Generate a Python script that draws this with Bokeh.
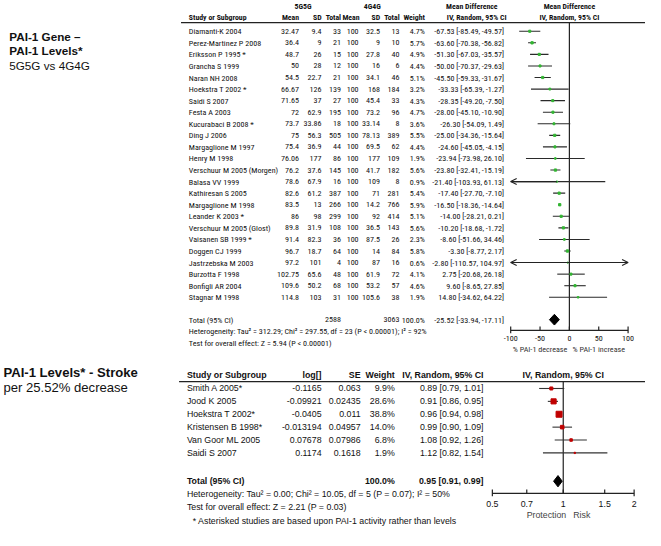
import math
from bokeh.plotting import figure
from bokeh.models import Range1d, LogScale, ColumnDataSource, Arrow, OpenHead
from bokeh.core.properties import value
from bokeh.embed import file_html
from bokeh.resources import INLINE

# ---------------- data: PAI-1 gene -> PAI-1 levels (5G5G vs 4G4G) ----------------
top_studies = ["Diamanti-K 2004", "Perez-Martinez P 2008", "Eriksson P 1995  *", "Grancha S 1999",
               "Naran NH 2008", "Hoekstra T 2002  *", "Saidi S 2007", "Festa A 2003",
               "Kucurabaci B 2008  *", "Ding J 2006", "Margaglione M 1997", "Henry M 1998",
               "Verschuur M 2005 (Morgen)", "Balasa VV 1999", "Kathiresan S 2005", "Margaglione M 1998",
               "Leander K 2003  *", "Verschuur M 2005 (Glost)", "Vaisanen SB 1999  *", "Doggen CJ 1999",
               "Jastrzebska M 2003", "Burzotta F 1998", "Bonfigli AR 2004", "Stagnar M 1998"]
g5_mean = [32.47, 36.4, 48.7, 50, 54.5, 66.67, 71.65, 72, 73.7, 75, 75.4, 76.06,
           76.2, 78.6, 82.6, 83.5, 86, 89.8, 91.4, 96.7, 97.2, 102.75, 109.6, 114.8]
g5_sd = [9.4, 9, 26, 28, 22.7, 126, 37, 62.9, 33.86, 56.3, 36.9, 177,
         37.6, 67.9, 61.2, 13, 98, 31.9, 82.3, 18.7, 101, 65.6, 50.2, 103]
g5_n = [33, 21, 15, 12, 21, 139, 27, 195, 18, 505, 44, 86,
        145, 16, 387, 266, 299, 108, 36, 64, 4, 48, 68, 31]
g4_mean = [100] * 24
g4_sd = [32.5, 9, 27.8, 16, 34.1, 168, 45.4, 73.2, 33.14, 78.13, 69.5, 177,
         41.7, 109, 71, 14.2, 92, 36.5, 87.5, 14, 87, 61.9, 53.2, 105.6]
g4_n = [13, 10, 40, 6, 46, 184, 33, 96, 8, 389, 62, 109,
        182, 8, 281, 766, 414, 143, 26, 84, 16, 72, 57, 38]
top_weight = [4.7, 5.7, 4.9, 4.4, 5.1, 3.2, 4.3, 4.7, 3.6, 5.5, 4.4, 1.9,
              5.6, 0.9, 5.4, 5.9, 5.1, 5.6, 2.3, 5.8, 0.6, 4.1, 4.6, 1.9]
md = [-67.53, -63.60, -51.30, -50.00, -45.50, -33.33, -28.35, -28.00, -26.30, -25.00, -24.60, -23.94,
      -23.80, -21.40, -17.40, -16.50, -14.00, -10.20, -8.60, -3.30, -2.80, 2.75, 9.60, 14.80]
md_lo = [-85.49, -70.38, -67.03, -70.37, -59.33, -65.39, -49.20, -45.10, -54.09, -34.36, -45.05, -73.98,
         -32.41, -103.93, -27.70, -18.36, -28.21, -18.68, -51.66, -8.77, -110.57, -20.68, -8.65, -34.62]
md_hi = [-49.57, -56.82, -35.57, -29.63, -31.67, -1.27, -7.50, -10.90, 1.49, -15.64, -4.15, 26.10,
         -15.19, 61.13, -7.10, -14.64, 0.21, -1.72, 34.46, 2.17, 104.97, 26.18, 27.85, 64.22]
top_total_n5, top_total_n4 = 2588, 3063
top_total = (-25.52, -33.94, -17.11)
top_het = "Heterogeneity: Tau\u00b2 = 312.29; Chi\u00b2 = 297.55, df = 23 (P < 0.00001); I\u00b2 = 92%"
top_test = "Test for overall effect: Z = 5.94 (P < 0.00001)"
top_ticks = [-100, -50, 0, 50, 100]
top_axis_labels = ["% PAI-1 decrease", "% PAI-1 increase"]

# ---------------- data: PAI-1 levels -> stroke ----------------
bot_studies = ["Smith A 2005*", "Jood K 2005", "Hoekstra T 2002*", "Kristensen B 1998*",
               "Van Goor ML 2005", "Saidi S 2007"]
bot_log = [-0.1165, -0.09921, -0.0405, -0.013194, 0.07678, 0.1174]
bot_se = [0.063, 0.02435, 0.011, 0.04957, 0.07986, 0.1618]
bot_weight = [9.9, 28.6, 38.8, 14.0, 6.8, 1.9]
rr = [0.89, 0.91, 0.96, 0.99, 1.08, 1.12]
rr_lo = [0.79, 0.86, 0.94, 0.90, 0.92, 0.82]
rr_hi = [1.01, 0.95, 0.98, 1.09, 1.26, 1.54]
bot_total = (0.95, 0.91, 0.99)
bot_het = "Heterogeneity: Tau\u00b2 = 0.00; Chi\u00b2 = 10.05, df = 5 (P = 0.07); I\u00b2 = 50%"
bot_test = "Test for overall effect: Z = 2.21 (P = 0.03)"
bot_note = "* Asterisked studies are based upon PAI-1 activity rather than levels"
bot_ticks = [0.5, 0.7, 1, 1.5, 2]
bot_axis_labels = ["Protection", "Risk"]

# ---------------- layout (reference pixel space) ----------------
NARROW = "Roboto Condensed"
SANS = "Liberation Sans"
S = 645 / 661.0
def fs(px):
    return value(f"{px * S:.1f}px")

MD_ZERO, MD_K = 583.0, (643.0 - 522.7) / 200.0
RR_ONE, RR_K = 576.7, 104.8

p = figure(width=645, height=530, x_range=Range1d(0, 661), y_range=Range1d(543, 0),
           output_backend="svg", toolbar_location=None, x_axis_type=None, y_axis_type=None,
           min_border=0, outline_line_color=None, background_fill_color="white",
           border_fill_color="white")
p.extra_x_ranges = {"md": Range1d((0 - MD_ZERO) / MD_K, (661 - MD_ZERO) / MD_K),
                    "rr": Range1d(math.exp((0 - RR_ONE) / RR_K), math.exp((661 - RR_ONE) / RR_K))}
p.extra_x_scales = {"rr": LogScale()}

TS = 8.3   # top table font size
THS = 8.0  # top header font size

def txt(xs, ys, texts, align="left", bold=False, size=TS, font=NARROW, rng="default",
        color="#111111", x_offset=0):
    p.text(x=xs, y=ys, text=texts, text_align=align, text_baseline="middle",
           text_font=value(font), text_font_size=fs(size),
           text_font_style="bold" if bold else "normal", text_color=color,
           x_range_name=rng, x_offset=x_offset)

def fmt(v):
    return f"{v:g}"

# ---- titles ----
txt([9, 9], [36.7, 51.7], ["PAI-1 Gene \u2013", "PAI-1 Levels*"], bold=True, size=12, font=SANS)
txt([9], [66.7], ["5G5G vs 4G4G"], size=12, font=SANS)
txt([3], [381], ["PAI-1 Levels* - Stroke"], bold=True, size=13.4, font=SANS)
txt([3], [397], ["per 25.52% decrease"], size=13.4, font=SANS)

# ================= TOP PANEL =================
n = len(top_studies)
TY0, TDY = 31.5, 11.85
ty = [TY0 + TDY * i for i in range(n)]
HY1, HY2, HLINE = 6, 17, 22.7
T_TOTAL, T_HET, T_TEST = 327, 339, 350.5
T_AXIS = 338

# headers
txt([310, 381], [HY1, HY1], ["5G5G", "4G4G"], align="center", bold=True, size=THS)
txt([193], [HY2], ["Study or Subgroup"], bold=True, size=THS)
txt([306, 329, 349, 368, 389, 409, 435], [HY2] * 7,
    ["Mean", "SD", "Total", "Mean", "SD", "Total", "Weight"], align="right", bold=True, size=THS)
txt([483, 583], [HY1, HY1], ["Mean Difference", "Mean Difference"], align="center", bold=True, size=THS)
txt([488, 583], [HY2, HY2], ["IV, Random, 95% CI", "IV, Random, 95% CI"], align="center", bold=True, size=THS)
p.segment(x0=[185], y0=[HLINE], x1=[661], y1=[HLINE], line_color="#222222", line_width=1.3)

# rows
txt([193] * n, ty, top_studies)
for xr, vals in [(306, g5_mean), (329, g5_sd), (349, g5_n), (367, g4_mean), (389, g4_sd), (409, g4_n)]:
    txt([xr] * n, ty, [fmt(v) for v in vals], align="right")
txt([435] * n, ty, [f"{w:.1f}%" for w in top_weight], align="right")
txt([516] * n, ty, [f"{m:.2f} [{a:.2f}, {b:.2f}]" for m, a, b in zip(md, md_lo, md_hi)], align="right")

# total / stats
txt([193], [T_TOTAL], ["Total (95% CI)"])
txt([349, 409, 435], [T_TOTAL] * 3, [str(top_total_n5), str(top_total_n4), "100.0%"], align="right")
txt([516], [T_TOTAL], [f"{top_total[0]:.2f} [{top_total[1]:.2f}, {top_total[2]:.2f}]"], align="right")
txt([193, 193], [T_HET, T_TEST], [top_het, top_test])

# forest (top)
lo_c = [max(v, top_ticks[0]) for v in md_lo]
hi_c = [min(v, top_ticks[-1]) for v in md_hi]
p.segment(x0=[0], y0=[HLINE], x1=[0], y1=[T_AXIS], x_range_name="md", line_color="#222222", line_width=1.2)
p.segment(x0=lo_c, y0=ty, x1=hi_c, y1=ty, x_range_name="md", line_color="#2a2a2a", line_width=1.1)
p.scatter(x=md, y=ty, size=[0.6 + 0.7 * math.sqrt(w) for w in top_weight], marker="square",
          x_range_name="md", fill_color="#33b533", line_color="#33b533")
arr_src = {"x0": [], "x1": [], "y": []}
for m, a, b, y in zip(md, md_lo, md_hi, ty):
    if a < top_ticks[0]:
        arr_src["x0"].append(m); arr_src["x1"].append(top_ticks[0]); arr_src["y"].append(y)
    if b > top_ticks[-1]:
        arr_src["x0"].append(m); arr_src["x1"].append(top_ticks[-1]); arr_src["y"].append(y)
p.add_layout(Arrow(x_start="x0", y_start="y", x_end="x1", y_end="y", source=ColumnDataSource(arr_src),
                   x_range_name="md", line_color="#222222", line_width=1.1,
                   end=OpenHead(size=6, line_color="#222222", line_width=1.1)))
m0, l0, h0 = top_total
p.patch(x=[l0, m0, h0, m0], y=[T_TOTAL, T_TOTAL - 5.5, T_TOTAL, T_TOTAL + 5.5],
        x_range_name="md", fill_color="black", line_color="black")
# axis (top)
p.segment(x0=[top_ticks[0]], y0=[T_AXIS], x1=[top_ticks[-1]], y1=[T_AXIS], x_range_name="md",
          line_color="#222222", line_width=1.2)
p.segment(x0=top_ticks, y0=[T_AXIS - 4] * 5, x1=top_ticks,
          y1=[T_AXIS + 3 if i in (0, 4) else T_AXIS for i in range(5)],
          x_range_name="md", line_color="#222222", line_width=1.2)
txt(top_ticks, [346.5] * 5, [str(t) for t in top_ticks], align="center", rng="md")
txt([-50, 50], [357.5, 357.5], top_axis_labels, align="center", rng="md", color="#333333")

# ================= BOTTOM PANEL =================
m = len(bot_studies)
BY0, BDY = 397.5, 13.2
by = [BY0 + BDY * i for i in range(m)]
BH, BLINE = 384, 390.5
B_TOTAL, B_HET, B_TEST, B_NOTE = 492.5, 506, 519, 533
B_AXIS = 505
BS = 9.0

txt([191], [BH], ["Study or Subgroup"], bold=True, size=BS, font=SANS)
txt([329, 369, 404, 495], [BH] * 4, ["log[]", "SE", "Weight", "IV, Random, 95% CI"],
    align="right", bold=True, size=BS, font=SANS)
txt([1], [BH], ["IV, Random, 95% CI"], align="center", bold=True, size=BS, font=SANS, rng="rr")
p.segment(x0=[183], y0=[BLINE], x1=[661], y1=[BLINE], line_color="#222222", line_width=1.3)

txt([191] * m, by, bot_studies, size=BS, font=SANS)
txt([329] * m, by, [fmt(v) for v in bot_log], align="right", size=BS, font=SANS)
txt([369] * m, by, [fmt(v) for v in bot_se], align="right", size=BS, font=SANS)
txt([404] * m, by, [f"{w:.1f}%" for w in bot_weight], align="right", size=BS, font=SANS)
txt([495] * m, by, [f"{r:.2f} [{a:.2f}, {b:.2f}]" for r, a, b in zip(rr, rr_lo, rr_hi)],
    align="right", size=BS, font=SANS)

txt([191], [B_TOTAL], ["Total (95% CI)"], bold=True, size=BS, font=SANS)
txt([404], [B_TOTAL], ["100.0%"], align="right", bold=True, size=BS, font=SANS)
txt([495], [B_TOTAL], [f"{bot_total[0]:.2f} [{bot_total[1]:.2f}, {bot_total[2]:.2f}]"],
    align="right", bold=True, size=BS, font=SANS)
txt([191, 191], [B_HET, B_TEST], [bot_het, bot_test], size=BS, font=SANS)
txt([197], [B_NOTE], [bot_note], size=BS, font=SANS)

# forest (bottom)
p.segment(x0=[1], y0=[BLINE], x1=[1], y1=[B_AXIS], x_range_name="rr", line_color="#222222", line_width=1.2)
p.segment(x0=rr_lo, y0=by, x1=rr_hi, y1=by, x_range_name="rr", line_color="#333333", line_width=1.1)
p.scatter(x=rr, y=by, size=[0.96 * math.sqrt(w) for w in bot_weight], marker="square",
          x_range_name="rr", fill_color="#c00000", line_color="#c00000")
r0, a0, b0 = bot_total
p.patch(x=[a0, r0, b0, r0], y=[B_TOTAL, B_TOTAL - 5.8, B_TOTAL, B_TOTAL + 5.8],
        x_range_name="rr", fill_color="black", line_color="black")
p.segment(x0=[bot_ticks[0]], y0=[B_AXIS], x1=[bot_ticks[-1]], y1=[B_AXIS], x_range_name="rr",
          line_color="#222222", line_width=1.2)
p.segment(x0=bot_ticks, y0=[B_AXIS - 4] * 5, x1=bot_ticks,
          y1=[B_AXIS + 3 if i in (0, 4) else B_AXIS for i in range(5)],
          x_range_name="rr", line_color="#222222", line_width=1.2)
txt(bot_ticks, [515.5] * 5, [fmt(t) for t in bot_ticks], align="center", size=BS, font=SANS, rng="rr")
txt([1], [527], [bot_axis_labels[0]], align="right", size=BS, font=SANS, rng="rr", color="#444444", x_offset=3)
txt([1], [527], [bot_axis_labels[1]], align="left", size=BS, font=SANS, rng="rr", color="#444444", x_offset=10)

open("out.html", "w").write(file_html(p, INLINE))
